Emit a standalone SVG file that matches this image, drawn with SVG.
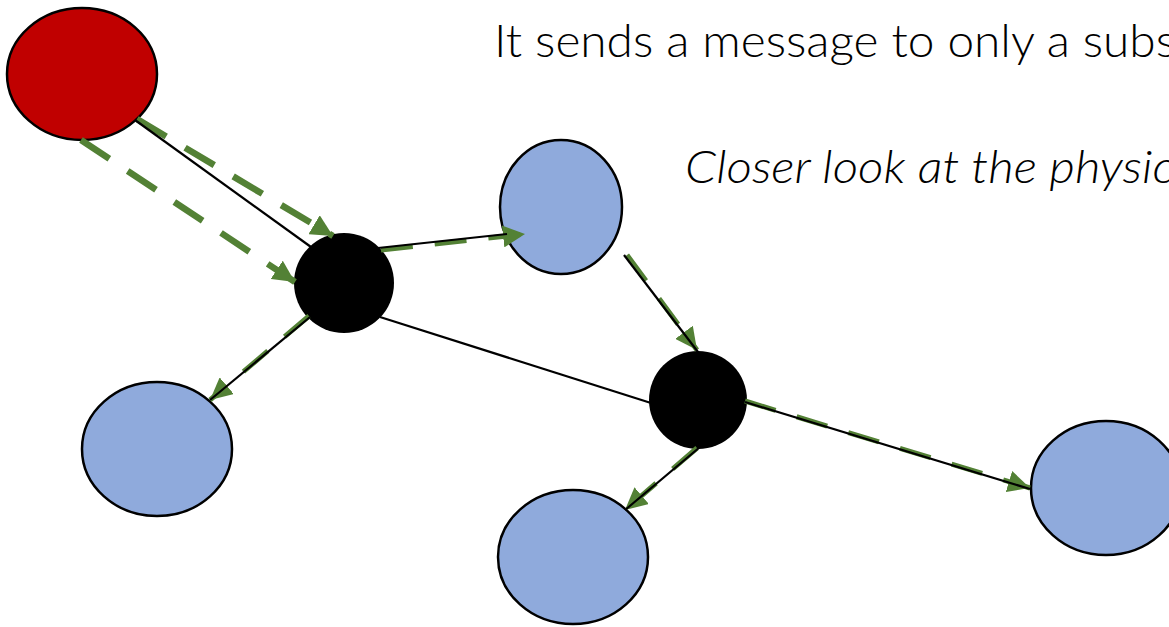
<svg xmlns="http://www.w3.org/2000/svg" width="1169" height="627" viewBox="0 0 1169 627">
  <defs>
    <marker id="arrow" markerUnits="userSpaceOnUse" markerWidth="24" markerHeight="22" refX="22" refY="11" orient="auto">
      <path d="M0,0 L22,11 L0,22 Z" fill="#538135"/>
    </marker>
    <style>
      .peer { fill: #8faadc; stroke: #000; stroke-width: 2.5; }
      .source { fill: #c00000; stroke: #000; stroke-width: 2.5; }
      .router { fill: #000; }
      .link { stroke: #000; stroke-width: 2.2; fill: none; }
      .msg { stroke: #538135; stroke-width: 5; stroke-dasharray: 32 22; fill: none; marker-end: url(#arrow); }
      .msg-wide { stroke-width: 6.5; stroke-dasharray: 34 22; }
      .caption { font-family: Lato, "Open Sans", sans-serif; font-size: 46px; font-weight: 300; fill: #000; }
    </style>
  </defs>

  <rect width="1169" height="627" fill="#fff"/>

  <!-- captions run past the right edge of the canvas -->
  <text class="caption" x="494" y="57" textLength="682" lengthAdjust="spacingAndGlyphs">It sends a message to only a subs</text>
  <text class="caption" x="685" y="183" font-style="italic" textLength="490" lengthAdjust="spacingAndGlyphs">Closer look at the physic</text>

  <g id="node-source"><ellipse class="source" cx="82" cy="74" rx="75" ry="66"/></g>
  <g id="node-router-a"><circle class="router" cx="344" cy="283" r="50"/></g>
  <g id="node-router-b"><circle class="router" cx="698" cy="400" r="49"/></g>
  <g id="node-peer-top"><ellipse class="peer" cx="561" cy="207" rx="61" ry="67"/></g>
  <g id="node-peer-left"><ellipse class="peer" cx="157" cy="449" rx="75" ry="67"/></g>
  <g id="node-peer-bottom"><ellipse class="peer" cx="573" cy="557" rx="75" ry="67"/></g>
  <g id="node-peer-right"><ellipse class="peer" cx="1106" cy="488" rx="75" ry="67"/></g>

  <g id="connectors">
    <!-- message flow -->
    <line class="msg msg-wide" x1="137" y1="119" x2="333" y2="236"/>
    <line class="msg msg-wide" x1="81" y1="140" x2="295" y2="282"/>
    <line class="msg" x1="381" y1="250" x2="525" y2="234"/>
    <line class="msg" x1="627" y1="255" x2="697" y2="350"/>
    <line class="msg" x1="309" y1="316" x2="210" y2="400"/>
    <line class="msg" x1="697" y1="448" x2="625" y2="510"/>
    <line class="msg" x1="745" y1="401" x2="1030" y2="488"/>
    <!-- physical links -->
    <line class="link" x1="135" y1="120" x2="311" y2="247"/>
    <line class="link" x1="378" y1="248" x2="507" y2="234"/>
    <line class="link" x1="380" y1="317" x2="651" y2="403"/>
    <line class="link" x1="624" y1="255" x2="698" y2="352"/>
    <line class="link" x1="310" y1="317" x2="210" y2="400"/>
    <line class="link" x1="700" y1="447" x2="625" y2="510"/>
    <line class="link" x1="745" y1="402" x2="1030" y2="489"/>
  </g>
</svg>
